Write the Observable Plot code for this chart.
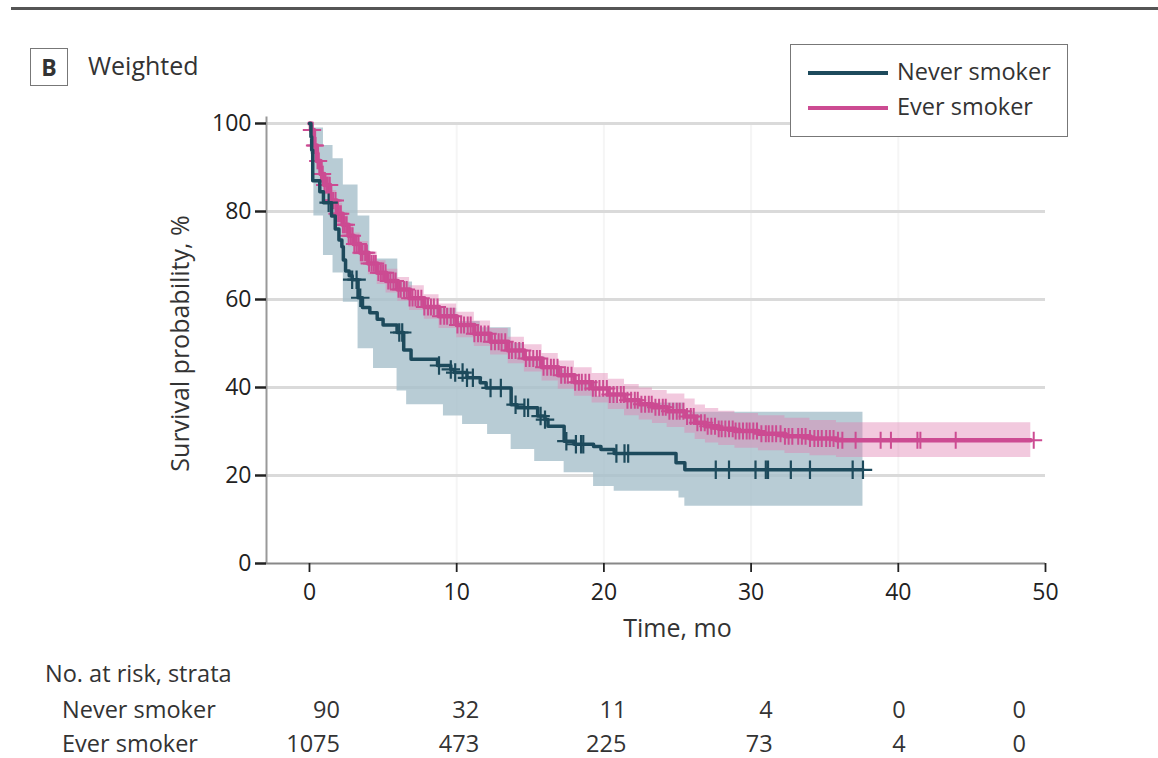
<!DOCTYPE html>
<html><head><meta charset="utf-8">
<script src="https://cdn.jsdelivr.net/npm/d3@7"></script>
<script src="https://cdn.jsdelivr.net/npm/@observablehq/plot@0.6"></script>
<style>
body{margin:0;background:#fff;font-family:"Open Sans",sans-serif;color:#333}
#wrap{position:relative;width:1158px;height:758px;overflow:hidden;background:#fff}
#wrap > svg{position:absolute;left:0;top:0}
.abs{position:absolute;white-space:nowrap;line-height:1}
#rule{position:absolute;left:11px;top:7px;width:1147px;height:3px;background:#555}
#panel{left:30px;top:48px;width:36px;height:36px;border:1.5px solid #777;font-weight:700;font-size:23px;text-align:center;line-height:36px;color:#333}
#subtitle{left:88px;top:53px;font-size:25px;color:#333}
#legend{position:absolute;left:790px;top:44px;width:276px;height:91px;border:1.5px solid #777;background:#fff}
.lg-line{position:absolute;left:17px;width:80px;height:4px}
.lg-text{position:absolute;left:106px;font-size:23.5px;color:#333;line-height:1}
.tbl{position:absolute;font-size:23.5px;color:#333;line-height:1;white-space:nowrap}
.num{position:absolute;font-size:23.5px;color:#333;line-height:1;text-align:right;width:80px}
</style></head><body>
<div id="wrap">
  <div id="rule"></div>
  <div id="panel" class="abs">B</div>
  <div id="subtitle" class="abs">Weighted</div>
  <div id="legend"></div>
</div>
<script>
// ---------------- data ----------------
const seriesNames = ["Never smoker", "Ever smoker"];
const seriesColors = ["#1d4a5c", "#cc4b92"];

// Never smoker Kaplan-Meier steps (months, survival %)
const neverTime = [0, 0.1, 0.15, 0.22, 0.7, 0.95, 1.5, 1.75, 2.0, 2.2, 2.3, 2.45, 2.7, 2.9, 3.3, 3.6, 4.1, 4.6, 5.0, 5.95, 6.4, 6.9, 8.7, 9.6, 9.85, 10.7, 11.6, 12.0, 13.7, 14.1, 15.5, 16.0, 16.2, 17.3, 18.0, 19.3, 19.8, 20.7, 24.9, 25.5, 37.6];
const neverSurv = [100, 97, 94, 87, 84.5, 82, 79, 76, 73.5, 72, 69, 66.5, 65.4, 64.5, 60.4, 58.2, 57, 55.5, 54.2, 52.5, 48.5, 46.4, 45, 44.1, 43.4, 42.2, 41.1, 39.9, 36.1, 35.4, 33.5, 32.7, 31.2, 27.8, 27.1, 26.6, 25.9, 25.0, 22.9, 21.3, 21.3];
const neverLowTime = [0, 0.1, 0.2, 0.3, 0.95, 1.6, 2.3, 3.3, 4.35, 5.95, 6.6, 9.1, 10.4, 12.1, 13.7, 15.3, 17.3, 19.3, 20.7, 25.1, 25.5, 37.6];
const neverLow = [99, 93, 87, 79, 70, 66, 59.4, 48.8, 44.3, 39.2, 36.1, 33.5, 31.6, 29.3, 25.9, 23.2, 20.6, 17.5, 16.4, 14.9, 13.0, 13.0];
const neverUpTime = [0, 0.2, 0.95, 1.6, 2.3, 3.3, 4.1, 6.0, 7.0, 8.0, 10.0, 11.6, 13.7, 14.5, 16.0, 17.5, 19.5, 21.0, 25.5, 37.6];
const neverUp = [100, 99, 95, 92, 86, 79, 69.2, 64, 60, 58, 55, 53.6, 50, 47, 44, 41, 38, 36.5, 34.4, 34.4];
const neverCensor = [1.3, 2.9, 3.2, 3.45, 6.1, 6.3, 8.8, 9.6, 9.9, 10.4, 10.7, 11.1, 12.3, 13.0, 14.0, 14.6, 14.85, 15.7, 16.0, 17.45, 18.1, 18.45, 18.6, 20.85, 21.4, 21.65, 27.6, 28.5, 30.3, 31.0, 31.15, 32.7, 34.0, 36.9, 37.6];

// Ever smoker Kaplan-Meier steps with 95% CI at the same times
const everTime = [0, 0.1, 0.3, 0.5, 0.75, 1.0, 1.4, 1.85, 2.25, 2.65, 3.0, 3.45, 4.0, 4.6, 5.2, 6.0, 6.8, 7.8, 8.8, 10, 11.2, 12.3, 13.5, 14.6, 15.8, 16.9, 18, 19.2, 20.3, 21.4, 22.4, 23.3, 24.3, 25.5, 26.2, 26.9, 27.8, 28.9, 30.5, 32.3, 34, 35.8, 49];
const everSurv = [100, 98.5, 95, 91.5, 88.5, 86, 82.5, 79.5, 77, 74.5, 72.6, 70.6, 68.2, 66.1, 64.2, 62.3, 60.3, 58.3, 56.2, 54.2, 52.2, 50.4, 48.4, 46.6, 44.6, 42.8, 41.2, 39.8, 38.4, 37.1, 36.2, 35.5, 34.6, 33.4, 32, 31.2, 30.6, 30.1, 29.5, 28.9, 28.4, 28, 28];
const everUp = [100, 99.5, 97, 93.5, 90.5, 88.2, 84.8, 81.9, 79.4, 77, 75.1, 73.2, 70.8, 68.8, 66.9, 65, 63.1, 61.1, 59, 57.1, 55.1, 53.4, 51.4, 49.7, 47.7, 46, 44.5, 43.2, 41.9, 40.7, 39.9, 39.3, 38.5, 37.4, 36, 35.2, 34.6, 34.1, 33.6, 33, 32.5, 32, 32];
const everLow = [99, 97.5, 93, 89.5, 86.4, 83.8, 80.2, 77.1, 74.6, 72, 70.1, 68, 65.6, 63.4, 61.5, 59.6, 57.5, 55.5, 53.4, 51.3, 49.3, 47.4, 45.4, 43.5, 41.5, 39.6, 38, 36.5, 35, 33.6, 32.6, 31.8, 30.9, 29.6, 28.2, 27.4, 26.8, 26.2, 25.6, 25, 24.5, 24.1, 24.1];
const everCensor = [0.12, 0.22, 0.33, 0.41, 0.55, 0.63, 0.78, 0.9, 1.02, 1.15, 1.24, 1.38, 1.5, 1.61, 1.77, 1.86, 2.0, 2.13, 2.27, 2.4, 2.52, 2.66, 2.8, 2.93, 3.05, 3.2, 3.33, 3.49, 3.6, 3.78, 3.9, 4.05, 4.22, 4.37, 4.5, 4.68, 4.85, 5.0, 5.17, 5.35, 5.5, 5.7, 5.85, 6.05, 6.2, 6.42, 6.6, 6.8, 7.0, 7.2, 7.38, 7.6, 7.8, 8.05, 8.25, 8.45, 8.7, 8.9, 9.15, 9.35, 9.6, 9.8, 10.05, 10.3, 10.5, 10.75, 10.95, 11.2, 11.45, 11.65, 11.9, 12.15, 12.35, 12.6, 12.85, 13.05, 13.3, 13.55, 13.75, 14.0, 14.25, 14.5, 14.7, 14.95, 15.2, 15.45, 15.65, 15.9, 16.15, 16.4, 16.6, 16.85, 17.1, 17.35, 17.55, 17.8, 18.05, 18.3, 18.5, 18.75, 19.0, 19.25, 19.45, 19.7, 19.95, 20.2, 20.4, 20.65, 20.9, 21.15, 21.35, 21.6, 21.85, 22.1, 22.3, 22.55, 22.8, 23.05, 23.25, 23.5, 23.75, 24.0, 24.2, 24.45, 24.7, 24.95, 25.15, 25.4, 25.65, 25.9, 26.1, 26.35, 26.6, 26.85, 27.05, 27.3, 27.55, 27.8, 28.0, 28.25, 28.5, 28.75, 28.95, 29.2, 29.45, 29.7, 29.9, 30.15, 30.4, 30.7, 31.0, 31.2, 31.45, 31.7, 32.0, 32.3, 32.55, 32.8, 33.2, 33.45, 33.7, 34.0, 34.3, 34.55, 34.8, 35.1, 35.35, 35.6, 35.9, 36.2, 37.1, 38.8, 39.5, 41.3, 41.5, 43.9, 49.2];

// axes / table
const xTicks = [0, 10, 20, 30, 40, 50];
const yTicks = [0, 20, 40, 60, 80, 100];
const riskTimes = [0, 10, 20, 30, 40, 50];
const riskNever = [90, 32, 11, 4, 0, 0];
const riskEver = [1075, 473, 225, 73, 4, 0];
const yLabel = "Survival probability, %";
const xLabel = "Time, mo";
const tableTitle = "No. at risk, strata";

// ---------------- helpers ----------------
function stepAt(times, vals, t) {
  let v = vals[0];
  for (let i = 0; i < times.length; i++) { if (times[i] <= t) v = vals[i]; else break; }
  return v;
}
function band(lowT, low, upT, up) {
  const ts = Array.from(new Set([...lowT, ...upT])).sort((a, b) => a - b);
  return ts.map(t => ({t, lo: stepAt(lowT, low, t), hi: stepAt(upT, up, t)}));
}
const neverLine = neverTime.map((t, i) => ({t, s: neverSurv[i]}));
const everLine = everTime.map((t, i) => ({t, s: everSurv[i]}));
const neverBand = band(neverLowTime, neverLow, neverUpTime, neverUp);
const everBand = band(everTime, everLow, everTime, everUp);
const neverMarks = neverCensor.map(t => ({t, s: stepAt(neverTime, neverSurv, t)}));
const everMarks = everCensor.map(t => ({t, s: stepAt(everTime, everSurv, t)}));

const xMin = -2.92;

const chart = Plot.plot({
  width: 1158,
  height: 620,
  marginLeft: 266,
  marginRight: 113,
  marginTop: 123,
  marginBottom: 57,
  x: {domain: [xMin, 50]},
  y: {domain: [0, 100]},
  style: {fontFamily: "Open Sans", fontSize: "23px", color: "#222", background: "transparent", overflow: "visible"},
  marks: [
    Plot.ruleX([10, 20, 30, 40], {y1: 0, y2: 100, stroke: "#f5f5f5", strokeWidth: 2}),
    Plot.ruleY([20, 40, 60, 80, 100], {x1: xMin, x2: 50, stroke: "#dadada", strokeWidth: 3}),
    Plot.areaY(neverBand, {x: "t", y1: "lo", y2: "hi", curve: "step-after", fill: "#a6bfcb", fillOpacity: 0.8}),
    Plot.areaY(everBand, {x: "t", y1: "lo", y2: "hi", curve: "step-after", fill: "#e07fb0", fillOpacity: 0.42}),
    Plot.ruleX([xMin], {y1: 0, y2: 101.5, stroke: "#999", strokeWidth: 2}),
    Plot.ruleY([0], {x1: xMin, x2: 50, stroke: "#888", strokeWidth: 2}),
    Plot.line(everLine, {x: "t", y: "s", curve: "step-after", stroke: seriesColors[1], strokeWidth: 4.5}),
    Plot.dot(everMarks, {x: "t", y: "s", symbol: "plus", r: 5.5, stroke: seriesColors[1], strokeWidth: 2}),
    Plot.line(neverLine, {x: "t", y: "s", curve: "step-after", stroke: seriesColors[0], strokeWidth: 3.5}),
    Plot.dot(neverMarks, {x: "t", y: "s", symbol: "plus", r: 6, stroke: seriesColors[0], strokeWidth: 2.2}),
    Plot.axisY({ticks: yTicks, tickSize: 11, tickPadding: 4, strokeWidth: 2.5, stroke: "#222", label: null, anchor: "left", fontSize: 23}),
    Plot.axisX({ticks: xTicks, tickSize: 9, tickPadding: 11, strokeWidth: 1.8, stroke: "#222", label: null, anchor: "bottom", fontSize: 23}),
    Plot.text([yLabel], {frameAnchor: "left", dx: -86, rotate: -90, textAnchor: "middle", fontSize: 25, fill: "#333"}),
    Plot.text([xLabel], {x: 25, frameAnchor: "bottom", dy: 73, fontSize: 25, fill: "#333"})
  ]
});

const wrap = document.getElementById("wrap");
wrap.insertBefore(chart, wrap.firstChild);

// legend
const legend = document.getElementById("legend");
seriesNames.forEach((name, i) => {
  const ln = document.createElement("div");
  ln.className = "lg-line";
  ln.style.top = (i === 0 ? 26 : 61) + "px";
  ln.style.background = seriesColors[i];
  legend.appendChild(ln);
  const tx = document.createElement("div");
  tx.className = "lg-text";
  tx.style.top = (i === 0 ? 15 : 50) + "px";
  tx.textContent = name;
  legend.appendChild(tx);
});

// at-risk table
const xs = chart.scale("x");
const colShift = [31, 23, 23, 22, 8, -19];
function addText(cls, txt, left, top) {
  const d = document.createElement("div");
  d.className = cls; d.textContent = txt;
  d.style.left = left + "px"; d.style.top = top + "px";
  wrap.appendChild(d);
}
addText("tbl", tableTitle, 45, 662);
addText("tbl", seriesNames[0], 62, 698);
addText("tbl", seriesNames[1], 62, 732);
riskTimes.forEach((t, i) => {
  const right = xs.apply(t) + colShift[i];
  addText("num", String(riskNever[i]), right - 80, 698);
  addText("num", String(riskEver[i]), right - 80, 732);
});
</script>
</body></html>
